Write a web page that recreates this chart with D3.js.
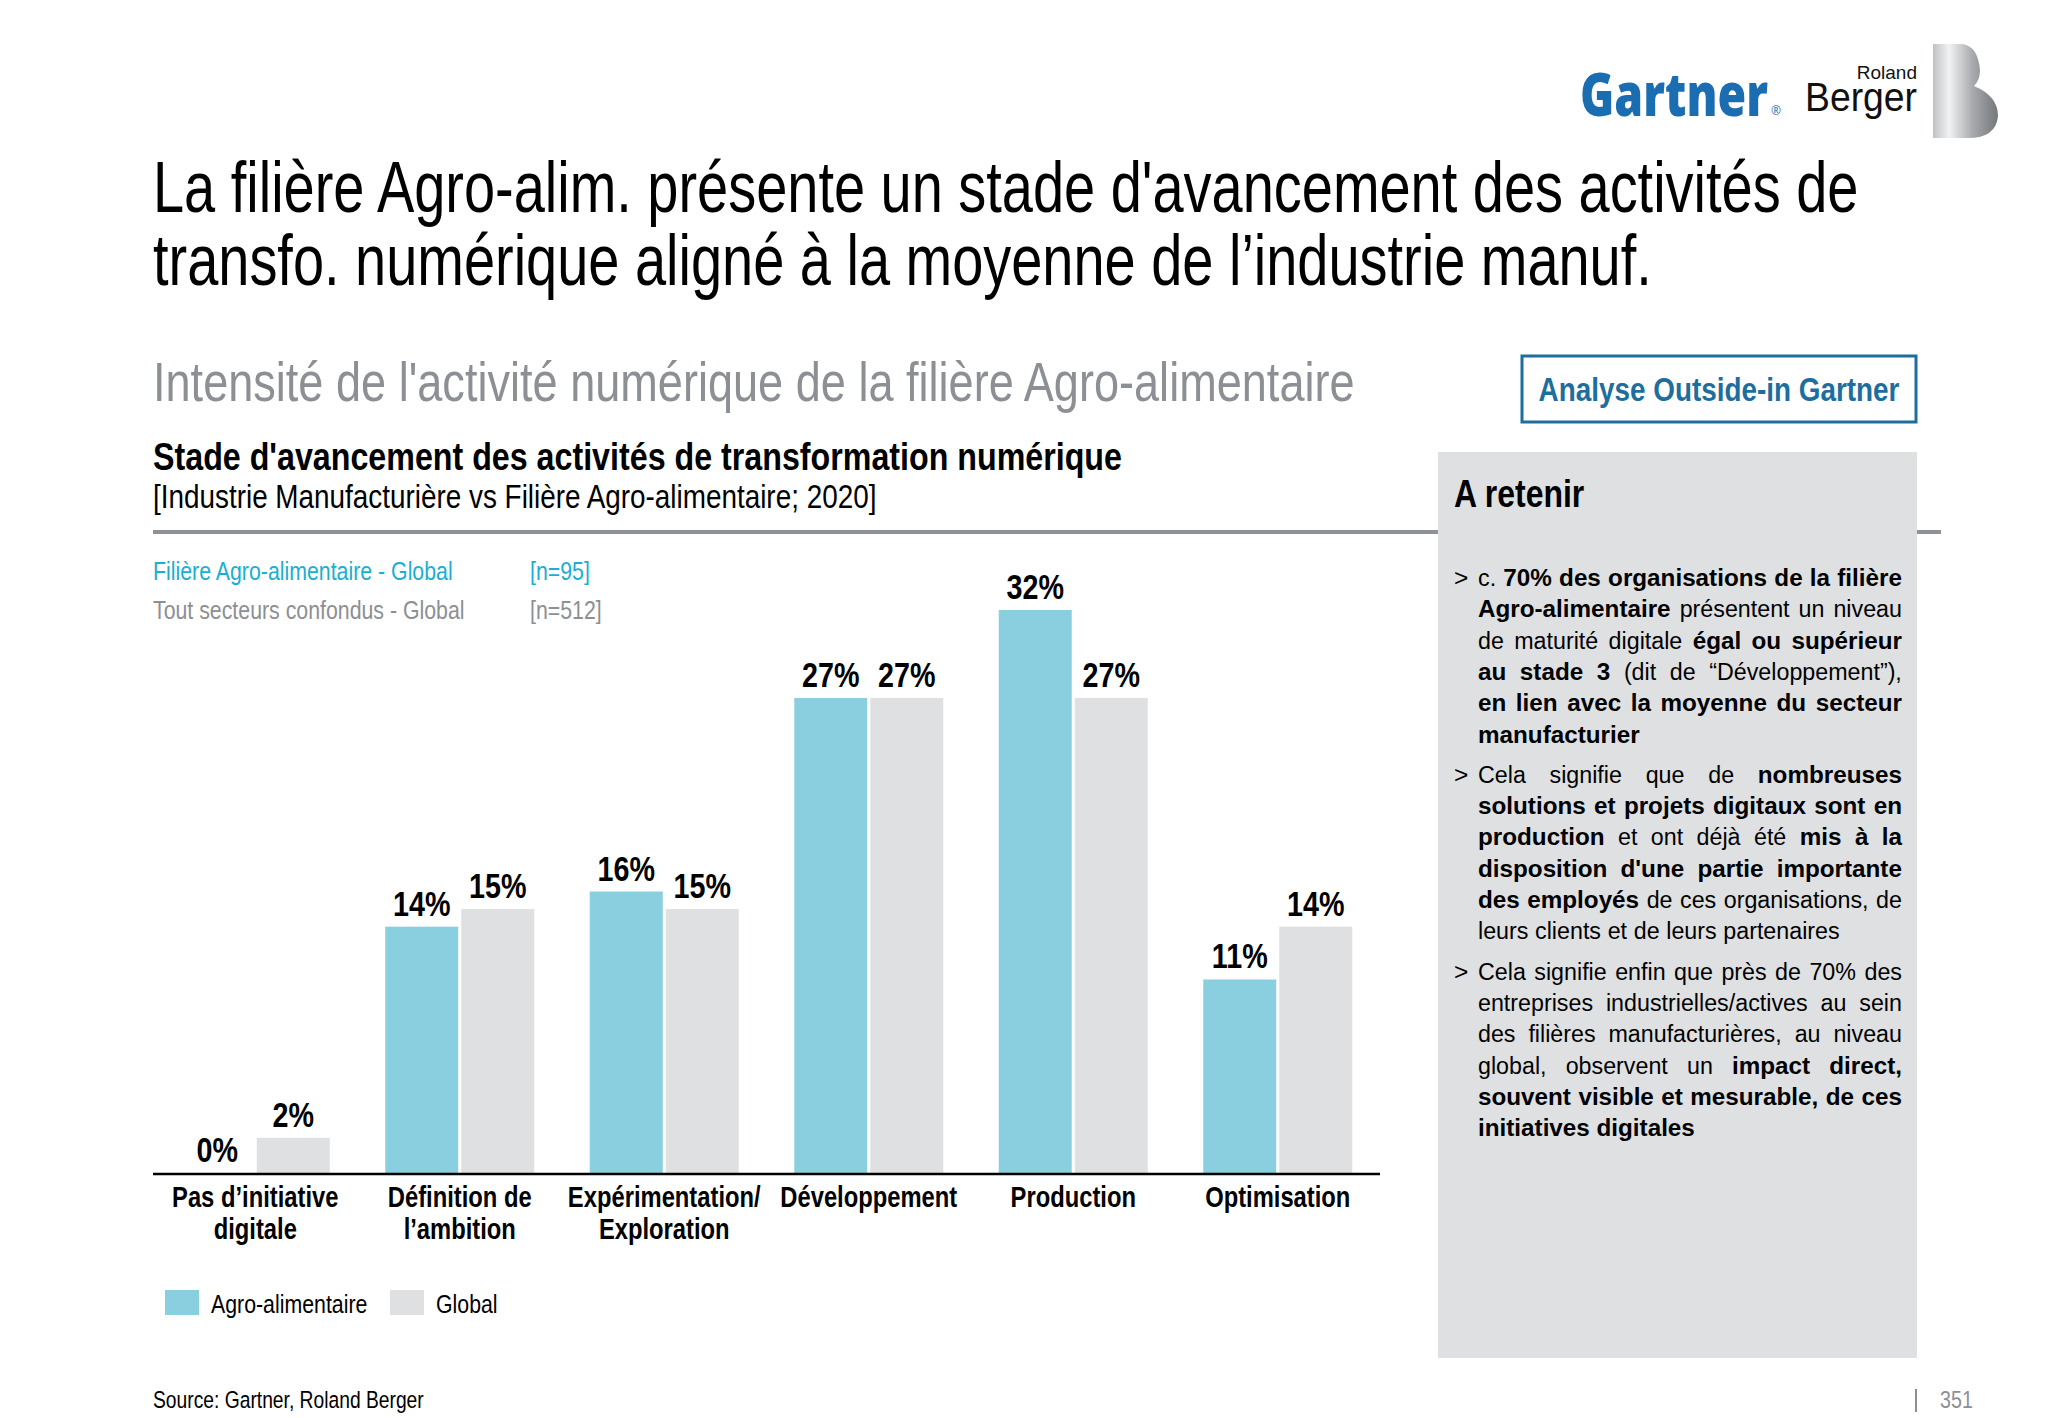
<!DOCTYPE html>
<html>
<head>
<meta charset="utf-8">
<script src="https://cdn.jsdelivr.net/npm/d3@7"></script>
<style>
  body { margin: 0; background: #fff; }
  text { font-family: "Liberation Sans", Arial, sans-serif; }
</style>
</head>
<body>
<div id="chart"></div>
<script>
// data
var categories = ["Pas d’initiative\ndigitale", "Définition de\nl’ambition", "Expérimentation/\nExploration", "Développement", "Production", "Optimisation"];
var agroValues = [0, 14, 16, 27, 32, 11];
var globalValues = [2, 15, 15, 27, 27, 14];
var seriesNames = ["Agro-alimentaire", "Global"];
var seriesColors = ["#89cfdf", "#dfe0e2"];

var W = 2048, H = 1418;
var SX = 0.82; // no narrow font installed: squeeze Liberation Sans like Arial Narrow

var svg = d3.select("#chart").append("svg")
  .attr("width", W).attr("height", H);

// narrow text helper
function ntext(parent, x, y, size, str, sx) {
  var t = parent.append("text")
    .attr("transform", "translate(" + x + "," + y + ") scale(" + (sx || SX) + ",1)")
    .style("font-size", size + "px");
  if (str != null) t.text(str);
  return t;
}

// logos
svg.append("text").attr("x", 1580).attr("y", 116)
  .attr("textLength", 188).attr("lengthAdjust", "spacingAndGlyphs")
  .style("font-family", "'Open Sans', sans-serif").style("font-weight", 800)
  .style("font-size", "60px").attr("fill", "#1b6db1").text("Gartner");
svg.append("text").attr("x", 1771).attr("y", 115)
  .style("font-family", "'Open Sans', sans-serif").style("font-size", "12px")
  .attr("fill", "#1b6db1").text("®");
svg.append("text").attr("x", 1917).attr("y", 79).attr("text-anchor", "end")
  .style("font-size", "19px").attr("fill", "#111").text("Roland");
svg.append("text").attr("x", 1917).attr("y", 111).attr("text-anchor", "end")
  .attr("textLength", 112).attr("lengthAdjust", "spacingAndGlyphs")
  .style("font-size", "41px").attr("fill", "#111").text("Berger");

var grad = svg.append("defs").append("linearGradient").attr("id", "bgrad")
  .attr("x1", "0%").attr("x2", "100%").attr("y1", "0%").attr("y2", "0%");
grad.append("stop").attr("offset", "0%").attr("stop-color", "#bfc1c4");
grad.append("stop").attr("offset", "25%").attr("stop-color", "#f2f2f2");
grad.append("stop").attr("offset", "60%").attr("stop-color", "#a9abae");
grad.append("stop").attr("offset", "100%").attr("stop-color", "#74777b");
svg.append("path")
  .attr("d", "M1933,44 H1962 Q1978,46 1980,70 Q1980,80 1974,86 Q1998,96 1998,116 Q1996,138 1968,138 H1933 Z")
  .attr("fill", "url(#bgrad)");

// titles
ntext(svg, 153, 212, 72, "La filière Agro-alim. présente un stade d'avancement des activités de", 0.777).attr("fill", "#000");
ntext(svg, 153, 285, 72, "transfo. numérique aligné à la moyenne de l’industrie manuf.", 0.777).attr("fill", "#000");

ntext(svg, 153, 401, 55, "Intensité de l'activité numérique de la filière Agro-alimentaire").attr("fill", "#8c8f94");

svg.append("rect").attr("x", 1522).attr("y", 356).attr("width", 394).attr("height", 66)
  .attr("fill", "#fff").attr("stroke", "#1d6e9f").attr("stroke-width", 3);
ntext(svg, 1719, 401, 34, "Analyse Outside-in Gartner").attr("text-anchor", "middle")
  .style("font-weight", 700).attr("fill", "#1d6e9f");

ntext(svg, 153, 470, 39.3, "Stade d'avancement des activités de transformation numérique")
  .style("font-weight", 700).attr("fill", "#000");
ntext(svg, 153, 508, 34, "[Industrie Manufacturière vs Filière Agro-alimentaire; 2020]").attr("fill", "#000");

svg.append("line").attr("x1", 153).attr("x2", 1941).attr("y1", 532).attr("y2", 532)
  .attr("stroke", "#8e9196").attr("stroke-width", 4);

// sample sizes
var nLabels = [["Filière Agro-alimentaire - Global", "[n=95]", "#1aaed3"],
               ["Tout secteurs confondus - Global", "[n=512]", "#8c8f94"]];
nLabels.forEach(function(d, i) {
  ntext(svg, 153, 580 + i * 39, 26, d[0]).attr("fill", d[2]);
  ntext(svg, 530, 580 + i * 39, 26, d[1]).attr("fill", d[2]);
});

// bar chart
var x0 = d3.scaleBand().domain(categories).range([153, 1380]);
var x1 = d3.scaleBand().domain(seriesNames).range([0, x0.bandwidth()])
  .paddingInner(0.04).paddingOuter(0.365);
var y = d3.scaleLinear().domain([0, 32]).range([1173, 610]);

var groups = svg.append("g").selectAll("g")
  .data(categories).join("g")
  .attr("transform", function(d) { return "translate(" + x0(d) + ",0)"; });

var bars = groups.selectAll("g")
  .data(function(d, i) {
    return [{s: seriesNames[0], v: agroValues[i]}, {s: seriesNames[1], v: globalValues[i]}];
  })
  .join("g");

bars.append("rect")
  .attr("x", function(d) { return x1(d.s); })
  .attr("y", function(d) { return y(d.v); })
  .attr("width", x1.bandwidth())
  .attr("height", function(d) { return y(0) - y(d.v); })
  .attr("fill", function(d, i) { return seriesColors[i]; });

bars.each(function(d) {
  ntext(d3.select(this), x1(d.s) + x1.bandwidth() / 2, y(d.v) - 11, 35, d.v + "%")
    .attr("text-anchor", "middle").style("font-weight", 700).attr("fill", "#000");
});

svg.append("line").attr("x1", 153).attr("x2", 1380)
  .attr("y1", y(0) + 1).attr("y2", y(0) + 1)
  .attr("stroke", "#000").attr("stroke-width", 2.5);

groups.each(function(d) {
  ntext(d3.select(this), x0.bandwidth() / 2, 1207, 29)
    .attr("text-anchor", "middle").style("font-weight", 700).attr("fill", "#000")
    .selectAll("tspan")
    .data(d.split("\n"))
    .join("tspan")
    .attr("x", 0)
    .attr("dy", function(t, i) { return i ? 32 : 0; })
    .text(function(t) { return t; });
});

// legend
var legendX = [165, 390];
seriesNames.forEach(function(s, i) {
  svg.append("rect").attr("x", legendX[i]).attr("y", 1290).attr("width", 34).attr("height", 25)
    .attr("fill", seriesColors[i]);
  ntext(svg, legendX[i] + 46, 1313, 26, s).attr("fill", "#000");
});

// side panel
svg.append("rect").attr("x", 1438).attr("y", 452).attr("width", 479).attr("height", 906)
  .attr("fill", "#dfe0e2");
ntext(svg, 1454, 507, 39, "A retenir").style("font-weight", 700).attr("fill", "#000");

var paragraphs = [
  [[["c. ", 0], ["70% des organisations de la filière", 1]],
   [["Agro-alimentaire", 1], [" présentent un niveau", 0]],
   [["de maturité digitale ", 0], ["égal ou supérieur", 1]],
   [["au stade 3", 1], [" (dit de “Développement”),", 0]],
   [["en lien avec la moyenne du secteur", 1]],
   [["manufacturier", 1]]],
  [[["Cela signifie que de ", 0], ["nombreuses", 1]],
   [["solutions et projets digitaux sont en", 1]],
   [["production", 1], [" et ont déjà été ", 0], ["mis à la", 1]],
   [["disposition d'une partie importante", 1]],
   [["des employés", 1], [" de ces organisations, de", 0]],
   [["leurs clients et de leurs partenaires", 0]]],
  [[["Cela signifie enfin que près de 70% des", 0]],
   [["entreprises industrielles/actives au sein", 0]],
   [["des filières manufacturières, au niveau", 0]],
   [["global, observent un ", 0], ["impact direct,", 1]],
   [["souvent visible et mesurable, de ces", 1]],
   [["initiatives digitales", 1]]]
];

// justified panel text, one text element per word
var textLeft = 1478, textRight = 1902, lineH = 31.3, panelFont = 24.5;
var regX = 0.95, boldX = 0.99;
var baseY = 586;
paragraphs.forEach(function(para) {
  ntext(svg, 1454, baseY, panelFont, ">", 1).attr("fill", "#000");
  para.forEach(function(line, li) {
    var words = [];
    line.forEach(function(seg) {
      seg[0].split(" ").forEach(function(w) { if (w) words.push({w: w, b: seg[1]}); });
    });
    var g = svg.append("g");
    var nodes = words.map(function(d) {
      var t = g.append("text").style("font-size", panelFont + "px")
        .style("font-weight", d.b ? 700 : 400).attr("fill", "#000").text(d.w);
      d.sx = d.b ? boldX : regX;
      d.width = t.node().getComputedTextLength() * d.sx;
      return t;
    });
    var total = d3.sum(words, function(d) { return d.width; });
    var last = li === para.length - 1;
    var gap = (last || words.length < 2) ? panelFont * 0.27 : (textRight - textLeft - total) / (words.length - 1);
    var cx = textLeft;
    nodes.forEach(function(t, i) {
      t.attr("transform", "translate(" + cx + "," + baseY + ") scale(" + words[i].sx + ",1)");
      cx += words[i].width + gap;
    });
    baseY += lineH;
  });
  baseY += 9;
});

// footer
ntext(svg, 153, 1408, 23.5, "Source: Gartner, Roland Berger").attr("fill", "#000");
svg.append("line").attr("x1", 1916).attr("x2", 1916).attr("y1", 1389).attr("y2", 1412)
  .attr("stroke", "#8c8f94").attr("stroke-width", 2);
ntext(svg, 1940, 1408, 24, "351").attr("fill", "#8c8f94");
</script>
</body>
</html>
